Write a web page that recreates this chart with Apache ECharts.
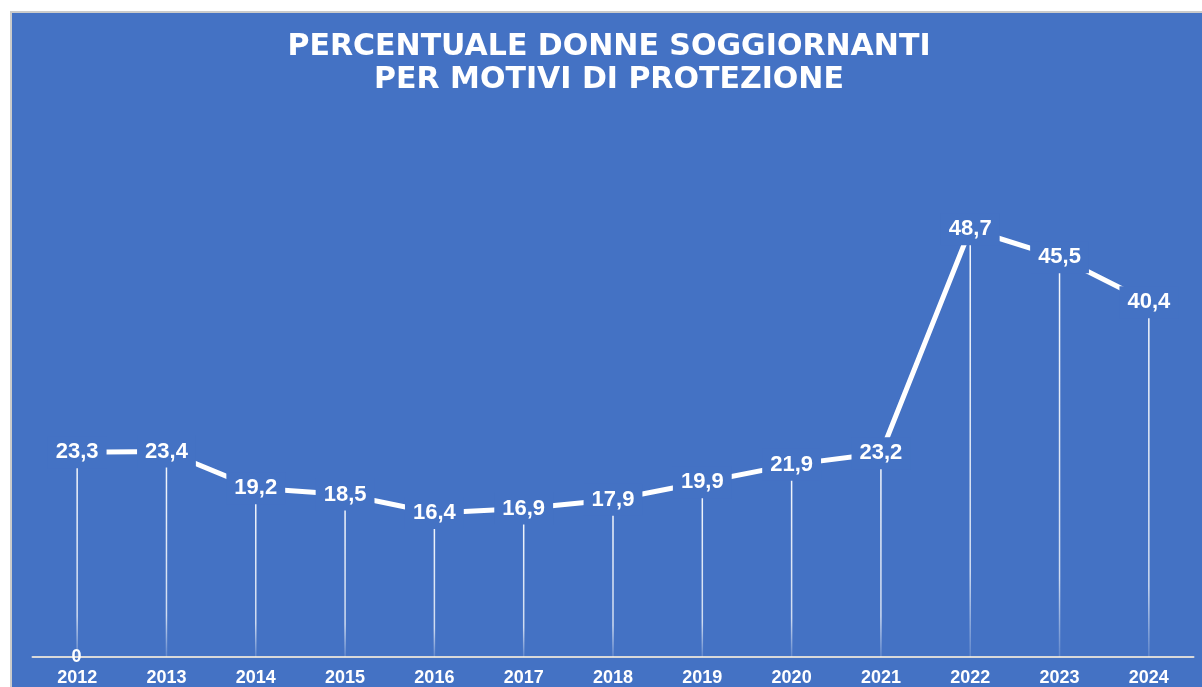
<!DOCTYPE html>
<html>
<head>
<meta charset="utf-8">
<script src="https://cdn.jsdelivr.net/npm/echarts@6/dist/echarts.min.js"></script>
<style>
  html, body { margin: 0; padding: 0; background: #ffffff; width: 1202px; height: 687px; overflow: hidden; }
  #panel { position: absolute; left: 10px; top: 11px; width: 1192px; height: 676px; box-sizing: border-box;
           background: #4472C4; border-left: 2px solid #cbcbcb; border-top: 2px solid #cbcbcb; }
  #chart { position: absolute; left: 0; top: 0; width: 1202px; height: 687px; }
</style>
</head>
<body>
<div id="panel"></div>
<div id="chart"></div>
<script>
const years = ['2012','2013','2014','2015','2016','2017','2018','2019','2020','2021','2022','2023','2024'];
const percentWomen = [23.3, 23.4, 19.2, 18.5, 16.4, 16.9, 17.9, 19.9, 21.9, 23.2, 48.7, 45.5, 40.4];
const titleLines = ['PERCENTUALE DONNE SOGGIORNANTI', 'PER MOTIVI DI PROTEZIONE'];

const BLUE = '#4472C4';
const FONT = 'Liberation Sans, Arial, sans-serif';
const chart = echarts.init(document.getElementById('chart'), null, { renderer: 'canvas' });
const fmt = v => String(v).replace('.', ',');

chart.setOption({
  backgroundColor: 'transparent',
  animation: false,
  title: {
    text: titleLines.join('\n'),
    left: 604, top: 26, textAlign: 'center',
    textStyle: { color: '#ffffff', fontFamily: 'DejaVu Sans, sans-serif', fontWeight: 'bold', fontSize: 30, lineHeight: 33 }
  },
  grid: { left: 32.5, right: 8.5, top: 130, bottom: 29.5, containLabel: false },
  xAxis: {
    type: 'category', data: years, boundaryGap: true,
    axisLine: { show: true, lineStyle: { color: '#d9d9d9', width: 2 } },
    axisTick: { show: false },
    axisLabel: { color: '#ffffff', fontFamily: FONT, fontWeight: 'bold', fontSize: 18, margin: 12 }
  },
  yAxis: {
    type: 'value', min: 0, max: 60,
    axisLine: { show: false }, axisTick: { show: false }, splitLine: { show: false },
    axisLabel: {
      inside: true, margin: 39, color: '#ffffff', fontFamily: FONT, fontWeight: 'bold', fontSize: 18,
      formatter: v => (v === 0 ? '0' : '')
    },
    z: 1
  },
  series: [
    {
      type: 'bar', data: percentWomen, barWidth: 1.5, z: 1, silent: true,
      itemStyle: {
        color: new echarts.graphic.LinearGradient(0, 0, 0, 1, [
          { offset: 0, color: 'rgba(255,255,255,0.95)' },
          { offset: 0.8, color: 'rgba(255,255,255,0.75)' },
          { offset: 1, color: 'rgba(255,255,255,0.15)' }
        ])
      }
    },
    {
      type: 'line', data: percentWomen, z: 3,
      symbol: 'circle', symbolSize: 2, showSymbol: true,
      itemStyle: { color: '#ffffff' },
      lineStyle: { color: '#ffffff', width: 5 },
      label: {
        show: true, position: 'inside', formatter: p => fmt(p.value),
        color: '#ffffff', fontFamily: FONT, fontWeight: 'bold', fontSize: 22,
        backgroundColor: BLUE, padding: [5, 8, 5, 8]
      },
      labelLayout: { hideOverlap: false }
    }
  ]
});
</script>
</body>
</html>
